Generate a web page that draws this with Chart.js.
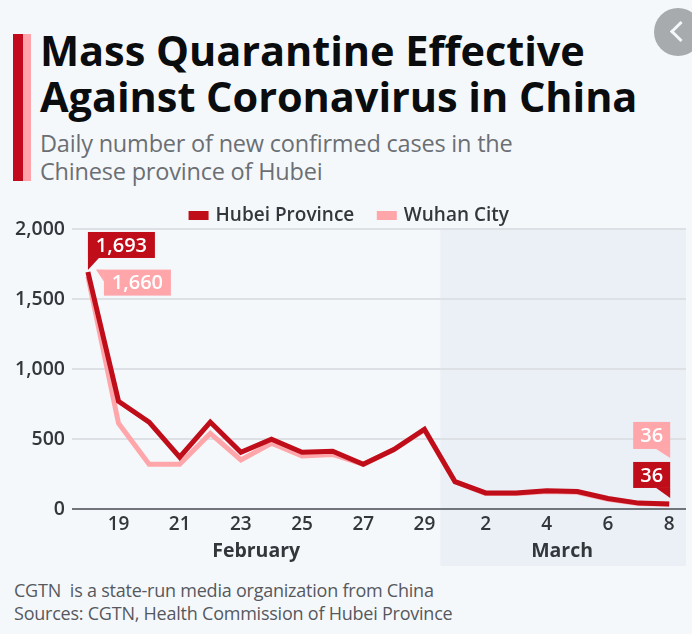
<!DOCTYPE html>
<html>
<head>
<meta charset="utf-8">
<script src="https://cdn.jsdelivr.net/npm/chart.js@4"></script>
<style>
  html, body { margin: 0; padding: 0; background: #f5f8fb; }
  body { width: 692px; height: 634px; position: relative; overflow: hidden; font-family: "Open Sans", sans-serif; }
  .bar { position: absolute; left: 13px; top: 34px; width: 18px; height: 147px; background: linear-gradient(to right, #c20a1c 0 10px, #ffa4aa 10px); }
  h1 { position: absolute; left: 40px; top: 27px; margin: 0; font-size: 41.5px; line-height: 46px; font-weight: 700; color: #0a0c0e; white-space: nowrap; letter-spacing: -0.05px; }
  .sub { position: absolute; left: 40px; top: 129px; font-size: 23.5px; line-height: 28px; color: #6b6f73; white-space: nowrap; letter-spacing: -0.2px; }
  .foot { position: absolute; left: 14px; top: 579px; font-size: 18px; line-height: 23px; color: #55595e; white-space: pre; letter-spacing: -0.23px; }
  .back { position: absolute; left: 654px; top: 8px; width: 48px; height: 48px; border-radius: 50%; background: #a8abad; }
  .back::after { content: ""; position: absolute; left: 19px; top: 16px; width: 12px; height: 12px; border-left: 3px solid #f5f8fb; border-bottom: 3px solid #f5f8fb; transform: rotate(45deg); }
  #wrap { position: absolute; left: 0; top: 181px; width: 692px; height: 391px; }
</style>
</head>
<body>
<div class="bar"></div>
<h1>Mass Quarantine Effective<br>Against Coronavirus in China</h1>
<div class="sub">Daily number of new confirmed cases in the<br>Chinese province of Hubei</div>
<div class="back"></div>
<div id="wrap"><canvas id="chart"></canvas></div>
<div class="foot">CGTN  is a state-run media organization from China
Sources: CGTN, Health Commission of Hubei Province</div>

<script>
const FONT = '"Open Sans", sans-serif';
const RED = '#bf0d1a';
const PINK = '#ffa6ab';
const INK = '#33373b';

const days = ['18', '19', '20', '21', '22', '23', '24', '25', '26', '27', '28', '29',
  '1', '2', '3', '4', '5', '6', '7', '8'];
const hubei = [1693, 770, 621, 370, 621, 405, 498, 405, 412, 320, 425, 570, 195, 115, 115, 130, 125, 75, 42, 36];
const wuhan = [1660, 612, 320, 320, 540, 350, 470, 378, 390, 320, 425, 565, 195, 110, 110, 125, 120, 70, 40, 36];
const shownDays = [1, 3, 5, 7, 9, 11, 13, 15, 17, 19];
const yTicks = [0, 500, 1000, 1500, 2000];
const months = [{ name: 'February', at: 5.5 }, { name: 'March', at: 15.5 }];
const marchStart = 11.52;

function toXY(values) {
  return values.map((v, i) => ({ x: i, y: v }));
}

// shaded March band, drawn first so grid and labels stay on top
const bandPlugin = {
  id: 'band',
  beforeDraw(chart) {
    const { ctx, chartArea, scales } = chart;
    const left = scales.x.getPixelForValue(marchStart);
    ctx.save();
    ctx.fillStyle = '#ebeff6';
    ctx.fillRect(left, chartArea.top, chartArea.right - left, chartArea.bottom - chartArea.top + 57);
    ctx.restore();
  },
};

// the legend keeps a wide gap between items but must not push the plot down
const legendHeightPlugin = {
  id: 'legendHeight',
  beforeLayout(chart) {
    const legend = chart.legend;
    if (legend.patched) return;
    const fit = legend.fit;
    legend.fit = function () {
      fit.call(this);
      this.height = 48;
    };
    legend.patched = true;
  },
};

function callout(ctx, x, y, w, h, color, text, tip, baseA, baseB) {
  ctx.fillStyle = color;
  ctx.fillRect(x, y, w, h);
  ctx.beginPath();
  ctx.moveTo(baseA[0], baseA[1]);
  ctx.lineTo(baseB[0], baseB[1]);
  ctx.lineTo(tip[0], tip[1]);
  ctx.closePath();
  ctx.fill();
  ctx.fillStyle = '#ffffff';
  ctx.textAlign = 'center';
  ctx.textBaseline = 'middle';
  ctx.fillText(text, x + w / 2, y + h / 2 + 1);
}

const labelPlugin = {
  id: 'labels',
  afterDatasetsDraw(chart) {
    const { ctx, scales, chartArea } = chart;
    const sx = scales.x;
    const sy = scales.y;
    ctx.save();
    ctx.font = `600 20px ${FONT}`;

    const x0 = sx.getPixelForValue(0);
    const yHubei = sy.getPixelForValue(hubei[0]);
    callout(ctx, x0, yHubei - 40, 67, 26, RED, '1,693', [x0, yHubei - 2], [x0, yHubei - 14], [x0 + 11, yHubei - 14]);
    const yWuhan = sy.getPixelForValue(wuhan[0]);
    callout(ctx, x0 + 16, yWuhan - 7, 67, 26, PINK, '1,660', [x0 + 8, yWuhan - 7], [x0 + 16, yWuhan - 7], [x0 + 16, yWuhan + 5]);

    const xEnd = sx.getPixelForValue(19);
    const yEnd = sy.getPixelForValue(hubei[19]);
    callout(ctx, xEnd - 36, yEnd - 42, 37, 26, RED, String(hubei[19]), [xEnd + 1, yEnd - 6], [xEnd - 13, yEnd - 16], [xEnd + 1, yEnd - 16]);
    callout(ctx, xEnd - 36, yEnd - 82, 37, 27, PINK, String(wuhan[19]), [xEnd + 1, yEnd - 46], [xEnd - 13, yEnd - 55], [xEnd + 1, yEnd - 55]);

    ctx.fillStyle = INK;
    ctx.font = `700 19.5px ${FONT}`;
    ctx.textAlign = 'center';
    ctx.textBaseline = 'alphabetic';
    months.forEach((m) => {
      ctx.fillText(m.name, sx.getPixelForValue(m.at), chartArea.bottom + 48);
    });
    ctx.restore();
  },
};

new Chart(document.getElementById('chart'), {
  type: 'line',
  data: {
    datasets: [
      { label: 'Hubei Province', data: toXY(hubei), borderColor: RED, backgroundColor: RED, order: 1 },
      { label: 'Wuhan City', data: toXY(wuhan), borderColor: PINK, backgroundColor: PINK, order: 2 },
    ],
  },
  options: {
    responsive: true,
    maintainAspectRatio: false,
    animation: false,
    layout: { padding: { left: 14, right: 6, top: 0, bottom: 0 } },
    elements: { point: { radius: 0 }, line: { borderWidth: 5, tension: 0, borderJoinStyle: 'miter' } },
    scales: {
      x: {
        type: 'linear',
        min: -0.52,
        max: 19.55,
        afterFit(scale) { scale.height = 63; },
        afterBuildTicks(scale) { scale.ticks = shownDays.map((value) => ({ value })); },
        grid: { display: false, drawTicks: false },
        border: { display: false },
        ticks: {
          autoSkip: false,
          maxRotation: 0,
          padding: 4,
          color: INK,
          font: { family: FONT, size: 19, weight: '600' },
          callback: (v) => days[v],
        },
      },
      y: {
        min: 0,
        max: 2000,
        afterFit(scale) { scale.width = 58; },
        afterBuildTicks(scale) { scale.ticks = yTicks.map((value) => ({ value })); },
        grid: {
          color: (c) => (c.tick.value === 0 ? '#6f757b' : '#dde1e6'),
          lineWidth: 2,
          drawTicks: false,
        },
        border: { display: false },
        ticks: {
          padding: 7,
          color: INK,
          font: { family: FONT, size: 19.5, weight: '600' },
          callback: (v) => v.toLocaleString('en-US'),
        },
      },
    },
    plugins: {
      tooltip: { enabled: false },
      legend: {
        position: 'top',
        labels: {
          boxWidth: 15,
          boxHeight: 4,
          padding: 25,
          color: INK,
          font: { family: FONT, size: 19, weight: '600' },
        },
      },
    },
  },
  plugins: [bandPlugin, legendHeightPlugin, labelPlugin],
});
</script>
</body>
</html>
